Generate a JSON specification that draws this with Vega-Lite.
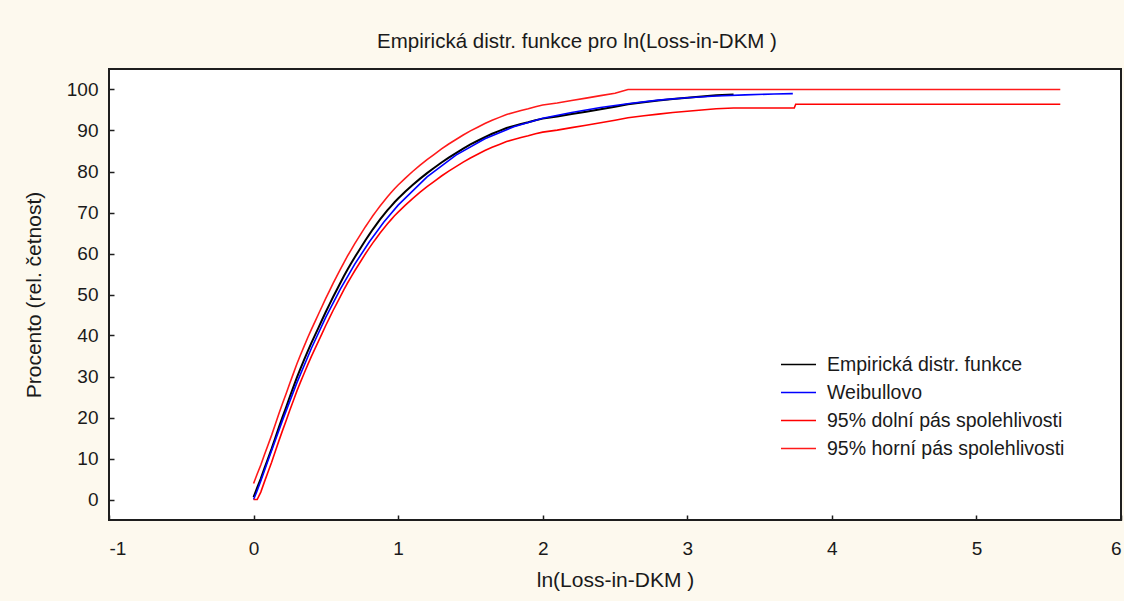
{
  "$schema": "https://vega.github.io/schema/vega-lite/v6.json",
  "width": 1012,
  "height": 451,
  "autosize": {"type": "none"},
  "padding": {"left": 109, "top": 69, "right": 3, "bottom": 81},
  "background": "#fdf9ee",
  "config": {
    "font": "Liberation Sans",
    "view": {"fill": "#ffffff", "stroke": "#1e1e1e", "strokeWidth": 2},
    "axis": {
      "labelFont": "Liberation Sans",
      "labelFontSize": 19,
      "labelColor": "#1a1a1a",
      "titleFont": "Liberation Sans",
      "titleFontSize": 21,
      "titleFontWeight": "normal",
      "titleColor": "#1a1a1a",
      "domain": false,
      "grid": false,
      "tickColor": "#1e1e1e",
      "tickWidth": 1.5
    },
    "legend": {
      "labelFont": "Liberation Sans",
      "labelFontSize": 19.5,
      "labelColor": "#1a1a1a",
      "labelLimit": 0
    }
  },
  "title": {
    "text": "Empirická distr. funkce pro ln(Loss-in-DKM )",
    "font": "Liberation Sans",
    "fontSize": 20.5,
    "fontWeight": "normal",
    "color": "#1a1a1a",
    "anchor": "middle",
    "frame": "group",
    "dx": -38,
    "offset": 17
  },
  "datasets": {
    "ecdf": [
      {"x": 0.000, "f": 0.6, "lo": 0.0, "hi": 3.9},
      {"x": 0.025, "f": 2.9, "lo": 0.0, "hi": 6.2},
      {"x": 0.050, "f": 5.1, "lo": 1.8, "hi": 8.4},
      {"x": 0.075, "f": 7.6, "lo": 4.3, "hi": 10.9},
      {"x": 0.100, "f": 10.0, "lo": 6.7, "hi": 13.3},
      {"x": 0.125, "f": 12.4, "lo": 9.1, "hi": 15.7},
      {"x": 0.150, "f": 15.0, "lo": 11.7, "hi": 18.3},
      {"x": 0.175, "f": 17.6, "lo": 14.3, "hi": 20.9},
      {"x": 0.200, "f": 20.1, "lo": 16.8, "hi": 23.4},
      {"x": 0.225, "f": 22.5, "lo": 19.2, "hi": 25.8},
      {"x": 0.250, "f": 25.0, "lo": 21.7, "hi": 28.3},
      {"x": 0.275, "f": 27.4, "lo": 24.1, "hi": 30.7},
      {"x": 0.300, "f": 29.8, "lo": 26.5, "hi": 33.1},
      {"x": 0.325, "f": 32.0, "lo": 28.7, "hi": 35.3},
      {"x": 0.350, "f": 34.1, "lo": 30.8, "hi": 37.4},
      {"x": 0.375, "f": 36.2, "lo": 32.9, "hi": 39.5},
      {"x": 0.400, "f": 38.2, "lo": 34.9, "hi": 41.5},
      {"x": 0.425, "f": 40.1, "lo": 36.8, "hi": 43.4},
      {"x": 0.450, "f": 42.0, "lo": 38.7, "hi": 45.3},
      {"x": 0.475, "f": 43.9, "lo": 40.6, "hi": 47.2},
      {"x": 0.500, "f": 45.8, "lo": 42.5, "hi": 49.1},
      {"x": 0.525, "f": 47.6, "lo": 44.3, "hi": 50.9},
      {"x": 0.550, "f": 49.4, "lo": 46.1, "hi": 52.7},
      {"x": 0.575, "f": 51.1, "lo": 47.8, "hi": 54.4},
      {"x": 0.600, "f": 52.8, "lo": 49.5, "hi": 56.1},
      {"x": 0.625, "f": 54.5, "lo": 51.2, "hi": 57.8},
      {"x": 0.650, "f": 56.1, "lo": 52.8, "hi": 59.4},
      {"x": 0.675, "f": 57.6, "lo": 54.3, "hi": 60.9},
      {"x": 0.700, "f": 59.1, "lo": 55.8, "hi": 62.4},
      {"x": 0.725, "f": 60.5, "lo": 57.2, "hi": 63.8},
      {"x": 0.750, "f": 61.9, "lo": 58.6, "hi": 65.2},
      {"x": 0.775, "f": 63.3, "lo": 60.0, "hi": 66.6},
      {"x": 0.800, "f": 64.6, "lo": 61.3, "hi": 67.9},
      {"x": 0.825, "f": 65.9, "lo": 62.6, "hi": 69.2},
      {"x": 0.850, "f": 67.1, "lo": 63.8, "hi": 70.4},
      {"x": 0.875, "f": 68.3, "lo": 65.0, "hi": 71.6},
      {"x": 0.900, "f": 69.4, "lo": 66.1, "hi": 72.7},
      {"x": 0.925, "f": 70.5, "lo": 67.2, "hi": 73.8},
      {"x": 0.950, "f": 71.5, "lo": 68.2, "hi": 74.8},
      {"x": 0.975, "f": 72.5, "lo": 69.2, "hi": 75.8},
      {"x": 1.000, "f": 73.4, "lo": 70.1, "hi": 76.7},
      {"x": 1.050, "f": 75.1, "lo": 71.8, "hi": 78.4},
      {"x": 1.100, "f": 76.7, "lo": 73.4, "hi": 80.0},
      {"x": 1.150, "f": 78.2, "lo": 74.9, "hi": 81.5},
      {"x": 1.200, "f": 79.6, "lo": 76.3, "hi": 82.9},
      {"x": 1.250, "f": 80.9, "lo": 77.6, "hi": 84.2},
      {"x": 1.300, "f": 82.2, "lo": 78.9, "hi": 85.5},
      {"x": 1.350, "f": 83.4, "lo": 80.1, "hi": 86.7},
      {"x": 1.400, "f": 84.5, "lo": 81.2, "hi": 87.8},
      {"x": 1.450, "f": 85.6, "lo": 82.3, "hi": 88.9},
      {"x": 1.500, "f": 86.6, "lo": 83.3, "hi": 89.9},
      {"x": 1.550, "f": 87.5, "lo": 84.2, "hi": 90.8},
      {"x": 1.600, "f": 88.4, "lo": 85.1, "hi": 91.7},
      {"x": 1.650, "f": 89.2, "lo": 85.9, "hi": 92.5},
      {"x": 1.700, "f": 89.9, "lo": 86.6, "hi": 93.2},
      {"x": 1.750, "f": 90.6, "lo": 87.3, "hi": 93.9},
      {"x": 1.800, "f": 91.1, "lo": 87.8, "hi": 94.4},
      {"x": 1.850, "f": 91.6, "lo": 88.3, "hi": 94.9},
      {"x": 1.900, "f": 92.0, "lo": 88.7, "hi": 95.3},
      {"x": 1.950, "f": 92.5, "lo": 89.2, "hi": 95.8},
      {"x": 2.000, "f": 92.9, "lo": 89.6, "hi": 96.2},
      {"x": 2.100, "f": 93.4, "lo": 90.1, "hi": 96.7},
      {"x": 2.200, "f": 94.0, "lo": 90.7, "hi": 97.3},
      {"x": 2.300, "f": 94.6, "lo": 91.3, "hi": 97.9},
      {"x": 2.400, "f": 95.2, "lo": 91.9, "hi": 98.5},
      {"x": 2.500, "f": 95.8, "lo": 92.5, "hi": 99.1},
      {"x": 2.590, "f": 96.4, "lo": 93.1, "hi": 100},
      {"x": 2.700, "f": 96.9, "lo": 93.6, "hi": 100},
      {"x": 2.800, "f": 97.3, "lo": 94.0, "hi": 100},
      {"x": 2.900, "f": 97.7, "lo": 94.4, "hi": 100},
      {"x": 3.000, "f": 98.0, "lo": 94.7, "hi": 100},
      {"x": 3.100, "f": 98.3, "lo": 95.0, "hi": 100},
      {"x": 3.200, "f": 98.6, "lo": 95.3, "hi": 100},
      {"x": 3.320, "f": 98.8, "lo": 95.5, "hi": 100},
      {"x": 3.740, "f": null, "lo": 95.5, "hi": 100},
      {"x": 3.750, "f": null, "lo": 96.4, "hi": 100},
      {"x": 5.580, "f": null, "lo": 96.4, "hi": 100}
    ],
    "weibull": [
      {"x": 0.00, "w": 0.0},
      {"x": 0.02, "w": 1.7},
      {"x": 0.05, "w": 4.5},
      {"x": 0.10, "w": 9.5},
      {"x": 0.15, "w": 14.4},
      {"x": 0.20, "w": 19.3},
      {"x": 0.30, "w": 28.5},
      {"x": 0.40, "w": 36.9},
      {"x": 0.50, "w": 44.5},
      {"x": 0.60, "w": 51.3},
      {"x": 0.70, "w": 57.4},
      {"x": 0.80, "w": 62.8},
      {"x": 0.90, "w": 67.6},
      {"x": 1.00, "w": 71.8},
      {"x": 1.20, "w": 78.7},
      {"x": 1.40, "w": 84.0},
      {"x": 1.60, "w": 88.0},
      {"x": 1.80, "w": 90.9},
      {"x": 2.00, "w": 93.0},
      {"x": 2.20, "w": 94.4},
      {"x": 2.40, "w": 95.6},
      {"x": 2.60, "w": 96.6},
      {"x": 2.80, "w": 97.4},
      {"x": 3.00, "w": 98.0},
      {"x": 3.20, "w": 98.4},
      {"x": 3.40, "w": 98.7},
      {"x": 3.60, "w": 98.9},
      {"x": 3.73, "w": 99.0}
    ]
  },
  "layer": [
    {
      "data": {"name": "ecdf"},
      "mark": {"type": "line", "strokeWidth": 2},
      "encoding": {
        "x": {
          "field": "x", "type": "quantitative",
          "scale": {"domain": [-1, 6], "nice": false, "zero": false},
          "axis": {
            "title": "ln(Loss-in-DKM )",
            "values": [-1, 0, 1, 2, 3, 4, 5, 6],
            "labelExpr": "'' + datum.value",
            "tickSize": -5,
            "labelPadding": 24,
            "titlePadding": 11
          }
        },
        "y": {
          "field": "f", "type": "quantitative",
          "scale": {"domain": [-5, 105], "nice": false, "zero": false},
          "axis": {
            "title": "Procento (rel. četnost)",
            "values": [0, 10, 20, 30, 40, 50, 60, 70, 80, 90, 100],
            "labelExpr": "'' + datum.value",
            "tickSize": -5,
            "labelPadding": 16,
            "titlePadding": 22
          }
        },
        "color": {
          "datum": "Empirická distr. funkce",
          "type": "nominal",
          "scale": {
            "domain": ["Empirická distr. funkce", "Weibullovo", "95% dolní pás spolehlivosti", "95% horní pás spolehlivosti"],
            "range": ["#000000", "#0000ff", "#ff0000", "#ff1a1a"]
          },
          "legend": {
            "title": null,
            "orient": "none",
            "legendX": 671,
            "legendY": 277,
            "symbolType": "stroke",
            "symbolSize": 1225,
            "symbolStrokeWidth": 1.5,
            "labelOffset": 10,
            "rowPadding": -2
          }
        }
      }
    },
    {
      "data": {"name": "weibull"},
      "mark": {"type": "line", "strokeWidth": 1.6},
      "encoding": {
        "x": {"field": "x", "type": "quantitative"},
        "y": {"field": "w", "type": "quantitative"},
        "color": {"datum": "Weibullovo", "type": "nominal"}
      }
    },
    {
      "data": {"name": "ecdf"},
      "mark": {"type": "line", "strokeWidth": 1.6},
      "encoding": {
        "x": {"field": "x", "type": "quantitative"},
        "y": {"field": "lo", "type": "quantitative"},
        "color": {"datum": "95% dolní pás spolehlivosti", "type": "nominal"}
      }
    },
    {
      "data": {"name": "ecdf"},
      "mark": {"type": "line", "strokeWidth": 1.6},
      "encoding": {
        "x": {"field": "x", "type": "quantitative"},
        "y": {"field": "hi", "type": "quantitative"},
        "color": {"datum": "95% horní pás spolehlivosti", "type": "nominal"}
      }
    }
  ]
}
